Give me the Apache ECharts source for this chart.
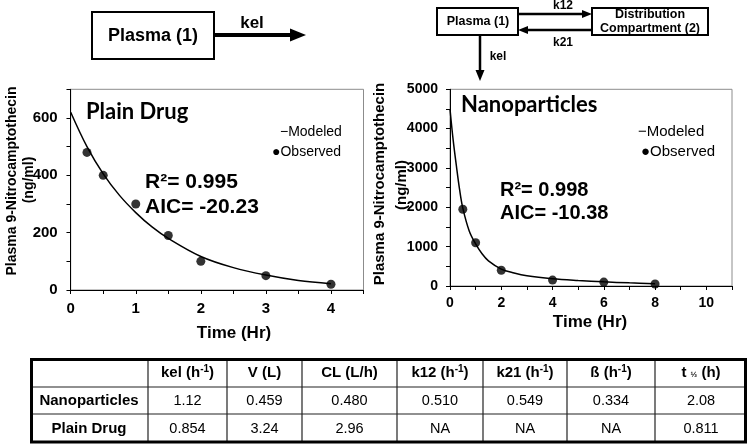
<!DOCTYPE html>
<html>
<head>
<meta charset="utf-8">
<script src="https://cdn.jsdelivr.net/npm/echarts@6/dist/echarts.min.js"></script>
<style>
html,body{margin:0;padding:0;background:#fff;}
#chart{width:750px;height:444px;}
</style>
</head>
<body>
<div id="chart"></div>
<script>
// ---- Data ----
const plainObsTime = [0.25, 0.5, 1, 1.5, 2, 3, 4];
const plainObsConc = [480, 400, 300, 190, 100, 50, 20];
const plainModTime = [0, 0.25, 0.5, 0.75, 1, 1.25, 1.5, 2, 2.5, 3, 3.5, 4];
const plainModConc = [620, 500, 405, 330, 270, 220, 180, 117, 78, 52, 33, 22];

const nanoObsTime = [0.5, 1, 2, 4, 6, 8];
const nanoObsConc = [1950, 1100, 400, 150, 100, 50];
const nanoModTime = [0, 0.125, 0.25, 0.375, 0.5, 0.75, 1, 1.25, 1.5, 2, 2.5, 3, 4, 5, 6, 7, 8];
const nanoModConc = [4500, 3700, 3050, 2450, 1980, 1400, 1070, 820, 640, 430, 330, 260, 185, 140, 105, 80, 60];

const yTitle = 'Plasma 9-Nitrocamptothecin';
const yUnit = '(ng/ml)';
const xTitle = 'Time (Hr)';
const panelTitles = ['Plain Drug', 'Nanoparticles'];
const fitStats = [['R²= 0.995', 'AIC= -20.23'], ['R²= 0.998', 'AIC= -10.38']];
const legendNames = ['Modeled', 'Observed'];

// header cells: [main text, superscript, trailing text]
const tableHeaders = [
  ['', '', ''], ['kel (h', '-1', ')'], ['V (L)', '', ''], ['CL (L/h)', '', ''],
  ['k12 (h', '-1', ')'], ['k21 (h', '-1', ')'], ['ß (h', '-1', ')'], ['t ', '½', ' (h)']
];
const tableRows = [
  ['Nanoparticles', '1.12', '0.459', '0.480', '0.510', '0.549', '0.334', '2.08'],
  ['Plain Drug', '0.854', '3.24', '2.96', 'NA', 'NA', 'NA', '0.811']
];

// ---- Layout ----
const FONT = '"Liberation Sans", Arial, sans-serif';
const pair = (xs, ys) => xs.map((x, i) => [x, ys[i]]);

const grids = [
  {left: 70.7, top: 89.3, width: 292.8, height: 200.7, show: true, borderColor: '#8c8c8c', borderWidth: 1},
  {left: 450, top: 89.3, width: 282, height: 196.7, show: true, borderColor: '#8c8c8c', borderWidth: 1}
];

function xAxes(gi, max, interval, labelEvery, fs, margin) {
  const base = {gridIndex: gi, type: 'value', min: 0, max: max, interval: interval, splitLine: {show: false}};
  return [
    Object.assign({}, base, {
      axisLine: {show: true, lineStyle: {color: '#000', width: 1}},
      axisTick: {show: true, inside: false, length: 4, lineStyle: {color: '#000'}},
      axisLabel: {show: true, margin: margin, color: '#000', fontWeight: 'bold', fontSize: fs, fontFamily: FONT,
        formatter: v => (Math.abs(v / labelEvery - Math.round(v / labelEvery)) < 1e-9 && v < max - 1e-9) ? String(v) : ''}
    }),
    Object.assign({}, base, {
      axisLine: {show: false},
      axisTick: {show: true, inside: true, length: 4, lineStyle: {color: '#000'}},
      axisLabel: {show: false}
    })
  ];
}
function yAxes(gi, max, interval, labelEvery, fs, margin) {
  const base = {gridIndex: gi, type: 'value', min: 0, max: max, interval: interval, splitLine: {show: false}};
  return [
    Object.assign({}, base, {
      axisLine: {show: true, lineStyle: {color: '#000', width: 1}},
      axisTick: {show: true, inside: false, length: 4, lineStyle: {color: '#000'}},
      axisLabel: {show: true, margin: margin, color: '#000', fontWeight: 'bold', fontSize: fs, fontFamily: FONT,
        formatter: v => (v % labelEvery === 0 ? String(v) : '')}
    }),
    Object.assign({}, base, {
      axisLine: {show: false},
      axisTick: {show: true, inside: true, length: 4, lineStyle: {color: '#000'}},
      axisLabel: {show: false}
    })
  ];
}

const xAxisList = [].concat(xAxes(0, 4.5, 0.5, 1, 15, 11), xAxes(1, 11, 1, 2, 14, 10));
const yAxisList = [].concat(yAxes(0, 700, 100, 200, 15, 13), yAxes(1, 5000, 500, 1000, 14, 12));

const lineSeries = (name, xi, yi, data) => ({
  name: name, type: 'line', xAxisIndex: xi, yAxisIndex: yi, data: data,
  smooth: 0.35, showSymbol: false, symbol: 'none',
  lineStyle: {color: '#000', width: 1.5}, itemStyle: {color: '#000'}, z: 3
});
const dotSeries = (name, xi, yi, data, size) => ({
  name: name, type: 'scatter', xAxisIndex: xi, yAxisIndex: yi, data: data,
  symbol: 'circle', symbolSize: size, itemStyle: {color: '#000'}, z: 4
});

const series = [
  lineSeries(legendNames[0], 0, 0, pair(plainModTime, plainModConc)),
  dotSeries(legendNames[1], 0, 0, pair(plainObsTime, plainObsConc), 9),
  lineSeries(legendNames[0], 2, 2, pair(nanoModTime, nanoModConc)),
  dotSeries(legendNames[1], 2, 2, pair(nanoObsTime, nanoObsConc), 9)
];

// ---- Graphic elements ----
const g = [];
function txt(x, y, text, opt) {
  opt = opt || {};
  g.push({
    type: 'text', x: x, y: y, rotation: opt.rot || 0, z: 10,
    style: Object.assign({
      text: text, fill: '#000', font: (opt.weight || 'bold') + ' ' + (opt.size || 14) + 'px ' + (opt.family || FONT),
      textAlign: opt.align || 'center', textVerticalAlign: 'middle'
    }, opt.rich ? {rich: opt.rich} : {})
  });
}
function rect(x, y, w, h, lw) {
  g.push({type: 'rect', shape: {x: x, y: y, width: w, height: h}, z: 10,
    style: {fill: 'none', stroke: '#000', lineWidth: lw}});
}
function line(x1, y1, x2, y2, lw, color) {
  g.push({type: 'line', shape: {x1: x1, y1: y1, x2: x2, y2: y2}, z: 10,
    style: {stroke: color || '#000', lineWidth: lw}});
}
function tri(pts) {
  g.push({type: 'polygon', shape: {points: pts}, z: 10, style: {fill: '#000'}});
}

// one-compartment diagram
rect(92, 12, 122, 47, 2);
txt(153, 36, 'Plasma (1)', {size: 18});
line(214, 35, 292, 35, 4);
tri([[290, 28.5], [306, 35], [290, 41.5]]);
txt(252, 23, 'kel', {size: 17});

// two-compartment diagram
rect(437, 8, 81, 27, 2);
txt(478, 21.5, 'Plasma (1)', {size: 12.5});
rect(592, 8, 116, 27, 2);
txt(650, 15, 'Distribution', {size: 12.5});
txt(650, 29, 'Compartment (2)', {size: 12.5});
line(518, 14, 584, 14, 2.5);
tri([[582, 10], [592, 14], [582, 18]]);
line(592, 30, 527, 30, 2.5);
tri([[528, 26], [518, 30], [528, 34]]);
txt(563, 6, 'k12', {size: 12});
txt(563, 43, 'k21', {size: 12});
line(480, 35, 480, 72, 2.5);
tri([[475.5, 70], [480, 81], [484.5, 70]]);
txt(498, 57, 'kel', {size: 12});

// axis titles
txt(12, 181, yTitle, {size: 14, rot: Math.PI / 2});
txt(29, 180, yUnit, {size: 14, rot: Math.PI / 2});
txt(380, 184, yTitle, {size: 15, rot: Math.PI / 2});
txt(402, 185, yUnit, {size: 15, rot: Math.PI / 2});
txt(234, 333, xTitle, {size: 17});
txt(590, 322, xTitle, {size: 17});

// panel titles
txt(86, 112, panelTitles[0], {size: 22, align: 'left', family: 'Lato, "Open Sans", sans-serif'});
txt(461, 105, panelTitles[1], {size: 22, align: 'left', family: 'Lato, "Open Sans", sans-serif'});

// fit statistics
txt(145, 182, fitStats[0][0], {size: 21, align: 'left'});
txt(145, 207, fitStats[0][1], {size: 21, align: 'left'});
txt(500, 190, fitStats[1][0], {size: 20, align: 'left'});
txt(500, 213, fitStats[1][1], {size: 20, align: 'left'});

// legends (text-style, as in the reference)
txt(280, 132, '−' + legendNames[0], {size: 14, align: 'left', weight: 'normal'});
txt(272, 152, '●' + legendNames[1], {size: 14, align: 'left', weight: 'normal'});
txt(638, 132, '−' + legendNames[0], {size: 15, align: 'left', weight: 'normal'});
txt(641, 152, '●' + legendNames[1], {size: 15, align: 'left', weight: 'normal'});

// parameter table
const colX = [30, 148, 227, 302, 397, 483, 567, 655, 747];
const rowY = [358, 387, 414, 443];
for (let i = 1; i < colX.length - 1; i++) line(colX[i], rowY[0], colX[i], rowY[3], 1.2, '#222');
for (let j = 1; j < rowY.length - 1; j++) line(colX[0], rowY[j], colX[colX.length - 1], rowY[j], 1.2, '#222');
rect(colX[0] + 1.5, rowY[0] + 1.5, colX[colX.length - 1] - colX[0] - 3, rowY[3] - rowY[0] - 2.5, 3);
const cx = i => (colX[i] + colX[i + 1]) / 2;
const cy = j => (rowY[j] + rowY[j + 1]) / 2;
tableHeaders.forEach((h, i) => {
  if (!h[0]) return;
  if (!h[1]) { txt(cx(i), cy(0), h[0], {size: 15}); return; }
  const isSub = h[1] === '½';
  txt(cx(i), cy(0), '{a|' + h[0] + '}{s|' + h[1] + '}{a|' + h[2] + '}', {
    size: 15, rich: {
      a: {fontFamily: FONT, fontWeight: 'bold', fontSize: 15, fill: '#000', lineHeight: 18, verticalAlign: 'middle'},
      s: {fontFamily: FONT, fontWeight: 'bold', fontSize: isSub ? 8 : 10, fill: '#000', lineHeight: isSub ? 8 : 22,
          verticalAlign: 'middle', padding: isSub ? [4, 0, 0, 0] : [0, 0, 6, 0]}
    }
  });
});
tableRows.forEach((row, j) => {
  row.forEach((v, i) => {
    txt(cx(i), cy(j + 1), v, {size: i === 0 ? 15 : 14.5, weight: i === 0 ? 'bold' : 'normal'});
  });
});

const chart = echarts.init(document.getElementById('chart'), null, {renderer: 'canvas'});
chart.setOption({
  animation: false,
  backgroundColor: '#fff',
  grid: grids,
  xAxis: xAxisList,
  yAxis: yAxisList,
  series: series,
  graphic: g
});
</script>
</body>
</html>
